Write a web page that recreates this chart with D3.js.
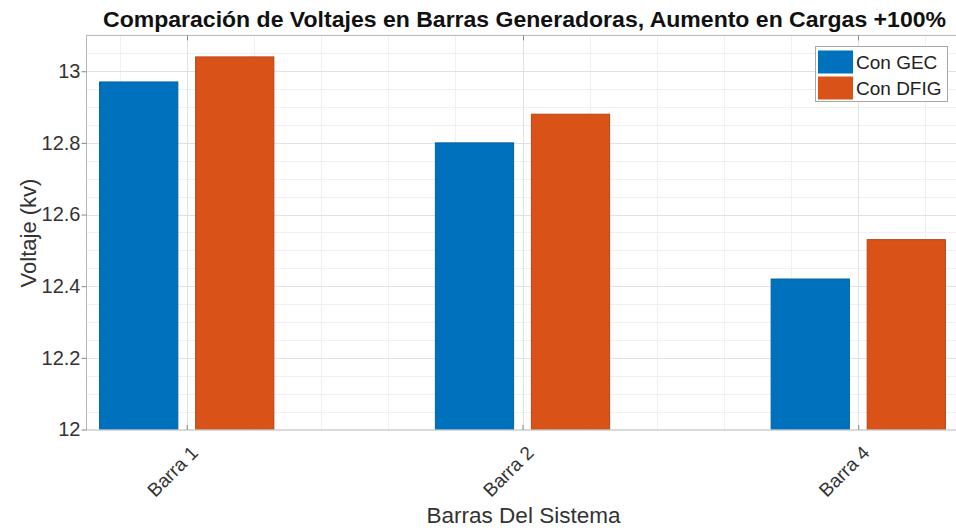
<!DOCTYPE html>
<html>
<head>
<meta charset="utf-8">
<script src="https://cdn.jsdelivr.net/npm/d3@7"></script>
<style>
  html, body { margin: 0; padding: 0; background: #fff; }
  svg { display: block; }
  text { font-family: "Liberation Sans", Arial, Helvetica, sans-serif; }
</style>
</head>
<body>
<svg id="chart" width="956" height="530"></svg>
<script>
const categories = ["Barra 1", "Barra 2", "Barra 4"];
const conGEC = [12.97, 12.80, 12.42];
const conDFIG = [13.04, 12.88, 12.53];
const seriesNames = ["Con GEC", "Con DFIG"];
const yTicks = [12, 12.2, 12.4, 12.6, 12.8, 13];
const titleText = "Comparación de Voltajes en Barras Generadoras, Aumento en Cargas +100%";
const xLabelText = "Barras Del Sistema";
const yLabelText = "Voltaje (kv)";

const colors = ["#0072BD", "#D95319"];
const strokes = ["#00609f", "#b8441a"];

(function () {
const svg = d3.select("#chart");
const W = 956, H = 530;
const pLeft = 86, pRight = 959, pTop = 35.4, pBottom = 429.5;

const x = d3.scaleLinear().domain([0.7, 3.3]).range([pLeft, pRight]);
const y = d3.scaleLinear().domain([12, 13.1]).range([pBottom, pTop]);

svg.append("defs").append("clipPath").attr("id", "pclip")
  .append("rect").attr("x", pLeft).attr("y", pTop).attr("width", pRight - pLeft).attr("height", pBottom - pTop);

const plot = svg.append("g").attr("clip-path", "url(#pclip)");

// minor grid
const minorX = d3.range(0.8, 3.3, 0.2).map(v => +v.toFixed(2));
const minorY = d3.range(12.05, 13.1, 0.05).map(v => +v.toFixed(2));
plot.append("g").selectAll("line").data(minorX).join("line")
  .attr("x1", d => Math.round(x(d)) + 0.5).attr("x2", d => Math.round(x(d)) + 0.5)
  .attr("y1", pTop).attr("y2", pBottom)
  .attr("stroke", "#f0f0f0").attr("stroke-width", 1);
plot.append("g").selectAll("line").data(minorY).join("line")
  .attr("y1", d => Math.round(y(d)) + 0.5).attr("y2", d => Math.round(y(d)) + 0.5)
  .attr("x1", pLeft).attr("x2", pRight)
  .attr("stroke", "#f0f0f0").attr("stroke-width", 1);
// major grid
plot.append("g").selectAll("line").data([1, 2, 3]).join("line")
  .attr("x1", d => Math.round(x(d)) + 0.5).attr("x2", d => Math.round(x(d)) + 0.5)
  .attr("y1", pTop).attr("y2", pBottom)
  .attr("stroke", "#e2e2e2").attr("stroke-width", 1);
plot.append("g").selectAll("line").data(yTicks).join("line")
  .attr("y1", d => Math.round(y(d)) + 0.5).attr("y2", d => Math.round(y(d)) + 0.5)
  .attr("x1", pLeft).attr("x2", pRight)
  .attr("stroke", "#e2e2e2").attr("stroke-width", 1);

// bars
const barW = 0.233, off = 0.143;
const series = [conGEC, conDFIG];
series.forEach((vals, si) => {
  const o = si === 0 ? -off : off;
  plot.append("g").selectAll("rect").data(vals).join("rect")
    .attr("x", (d, i) => x(i + 1 + o - barW / 2))
    .attr("width", x(barW) - x(0))
    .attr("y", d => y(d))
    .attr("height", d => y(12) - y(d))
    .attr("fill", colors[si])
    .attr("stroke", strokes[si]).attr("stroke-width", 1);
});

// axes box
const axisColor = "#b5b5b5";
svg.append("line").attr("x1", pLeft).attr("x2", W).attr("y1", pBottom + 0.5).attr("y2", pBottom + 0.5).attr("stroke", axisColor);
svg.append("line").attr("x1", pLeft).attr("x2", W).attr("y1", pTop).attr("y2", pTop).attr("stroke", axisColor);
svg.append("line").attr("x1", pLeft + 0.5).attr("x2", pLeft + 0.5).attr("y1", pTop).attr("y2", pBottom + 0.5).attr("stroke", axisColor);

// y axis ticks and labels
const yAxis = d3.axisLeft(y).tickValues(yTicks).tickSize(5).tickPadding(1)
  .tickFormat(d => d3.format("~g")(d));
const gy = svg.append("g").attr("transform", `translate(${pLeft + 0.5},0)`).call(yAxis);
gy.select(".domain").remove();
gy.selectAll(".tick line").attr("stroke", "#888");
gy.selectAll(".tick text").attr("fill", "#333").attr("font-size", 20)
  .attr("font-family", "'Liberation Sans', Arial, sans-serif");

// x axis ticks and labels
const xAxis = d3.axisBottom(x).tickValues([1, 2, 3]).tickSize(-5).tickFormat((d, i) => categories[i]);
const gx = svg.append("g").attr("transform", `translate(0,${pBottom + 0.5})`).call(xAxis);
gx.select(".domain").remove();
gx.selectAll(".tick line").attr("stroke", "#888");
gx.selectAll(".tick text").attr("fill", "#333").attr("font-size", 19)
  .attr("font-family", "'Liberation Sans', Arial, sans-serif")
  .attr("text-anchor", "end").attr("dy", 0).attr("y", 0)
  .attr("transform", "translate(12,24) rotate(-45)");
// top ticks
svg.append("g").selectAll("line").data([1, 2, 3]).join("line")
  .attr("x1", d => Math.round(x(d)) + 0.5).attr("x2", d => Math.round(x(d)) + 0.5)
  .attr("y1", pTop).attr("y2", pTop + 5).attr("stroke", "#888");

// title
svg.append("text").attr("x", 524.5).attr("y", 27).attr("text-anchor", "middle")
  .attr("font-size", 22).attr("font-weight", "bold").attr("fill", "#111")
  .attr("textLength", 843).attr("lengthAdjust", "spacingAndGlyphs")
  .text(titleText);

// axis labels
svg.append("text").attr("x", 523.5).attr("y", 523).attr("text-anchor", "middle")
  .attr("font-size", 22).attr("fill", "#333")
  .attr("textLength", 194).attr("lengthAdjust", "spacingAndGlyphs")
  .text(xLabelText);
svg.append("text").attr("transform", "translate(36,233) rotate(-90)").attr("text-anchor", "middle")
  .attr("font-size", 22).attr("fill", "#333").text(yLabelText);

// legend
const lg = svg.append("g");
lg.append("rect").attr("x", 815.5).attr("y", 46.5).attr("width", 132).attr("height", 55)
  .attr("fill", "#fff").attr("stroke", "#a8a8a8");
seriesNames.forEach((n, i) => {
  lg.append("rect").attr("x", 818).attr("y", 50.5 + i * 26).attr("width", 35).attr("height", 23)
    .attr("fill", colors[i]);
  lg.append("text").attr("x", 856).attr("y", 69 + i * 26).attr("font-size", 19).attr("fill", "#222")
    .text(n);
});
})();
</script>
</body>
</html>
